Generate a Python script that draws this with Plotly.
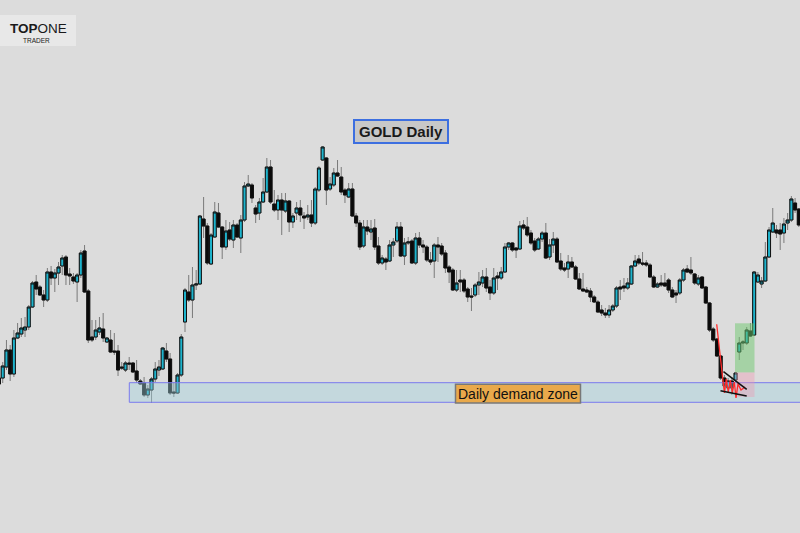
import plotly.graph_objects as go

# ---- daily OHLC values (price units) ----
opens = [1622,1622,1633,1650,1626,1662,1666,1670,1673,1693,
         1718,1713,1705,1700,1728,1722,1727,1734,1743,1726,
         1723,1718,1725,1749,1709,1663,1663,1668,1671,1658,
         1660,1649,1649,1633,1630,1637,1637,1629,1619,1617,
         1605,1610,1621,1630,1631,1649,1641,1608,1607,1625,
         1678,1708,1700,1715,1716,1781,1774,1736,1763,1787,
         1773,1753,1770,1760,1775,1762,1780,1814,1815,1792,
         1787,1798,1808,1833,1796,1790,1800,1789,1799,1778,
         1787,1792,1784,1783,1785,1777,1810,1840,1842,1811,
         1815,1827,1823,1810,1803,1811,1784,1777,1754,1773,
         1768,1772,1754,1737,1741,1739,1755,1759,1773,1744,
         1757,1759,1737,1762,1755,1753,1740,1739,1755,1754,
         1747,1733,1730,1710,1720,1720,1711,1704,1705,1715,
         1717,1723,1713,1707,1724,1722,1728,1753,1757,1752,
         1751,1775,1773,1767,1759,1751,1761,1767,1743,1755,
         1761,1739,1732,1731,1738,1733,1721,1711,1710,1709,
         1703,1698,1690,1687,1685,1690,1694,1713,1714,1712,
         1716,1734,1741,1737,1737,1735,1723,1713,1717,1717,
         1720,1710,1707,1707,1720,1731,1730,1726,1716,1723,
         1713,1697,1671,1661,1644,1622,1612,1619,1620,1648,
         1657,1657,1669,1665,1718,1716,1719,1743,1768,1770,
         1770,1767,1777,1780,1797,1791]
highs = [1628,1638,1660,1655,1670,1677,1682,1683,1695,1719,
         1725,1715,1710,1732,1734,1731,1738,1745,1745,1732,
         1727,1727,1750,1755,1711,1680,1680,1683,1687,1663,
         1670,1667,1655,1638,1639,1643,1638,1640,1621,1623,
         1615,1623,1638,1640,1653,1657,1647,1618,1627,1666,
         1712,1725,1733,1730,1785,1803,1777,1767,1798,1797,
         1774,1780,1778,1780,1777,1785,1818,1825,1817,1795,
         1802,1822,1842,1840,1810,1805,1807,1807,1800,1787,
         1798,1800,1788,1795,1800,1813,1834,1854,1843,1823,
         1832,1840,1833,1812,1817,1817,1787,1780,1780,1780,
         1780,1781,1763,1745,1743,1760,1762,1778,1778,1762,
         1763,1761,1767,1768,1760,1755,1748,1757,1763,1757,
         1750,1735,1732,1730,1730,1722,1713,1712,1717,1728,
         1730,1732,1720,1732,1728,1733,1757,1758,1758,1753,
         1779,1780,1783,1770,1762,1763,1769,1777,1761,1768,
         1763,1747,1737,1745,1743,1735,1727,1727,1713,1712,
         1705,1700,1695,1692,1695,1696,1714,1720,1722,1722,
         1735,1745,1745,1748,1740,1737,1725,1718,1725,1727,
         1722,1713,1710,1722,1732,1735,1743,1727,1725,1724,
         1714,1698,1673,1662,1645,1625,1622,1623,1628,1663,
         1660,1673,1677,1729,1728,1723,1758,1773,1792,1775,
         1777,1782,1787,1804,1802,1792]
lows = [1607,1617,1630,1619,1623,1661,1663,1663,1670,1692,
        1705,1704,1693,1698,1715,1708,1715,1725,1715,1715,
        1716,1698,1722,1707,1657,1658,1660,1665,1658,1657,
        1647,1645,1624,1630,1628,1630,1627,1617,1615,1603,
        1602,1597,1618,1624,1630,1638,1605,1603,1606,1623,
        1668,1698,1682,1710,1715,1762,1735,1735,1762,1772,
        1741,1750,1759,1752,1762,1747,1778,1813,1797,1777,
        1780,1797,1807,1796,1788,1780,1765,1787,1768,1772,
        1780,1778,1771,1780,1773,1775,1808,1839,1795,1809,
        1813,1823,1805,1797,1802,1783,1773,1750,1752,1765,
        1760,1750,1735,1735,1730,1738,1743,1757,1743,1735,
        1755,1736,1735,1752,1747,1738,1735,1722,1738,1744,
        1727,1717,1709,1708,1708,1707,1698,1689,1703,1705,
        1713,1708,1700,1705,1710,1720,1727,1750,1748,1742,
        1750,1770,1763,1755,1748,1750,1758,1741,1740,1747,
        1737,1729,1728,1722,1732,1720,1710,1708,1707,1698,
        1697,1687,1684,1682,1682,1688,1692,1700,1708,1710,
        1715,1733,1735,1734,1733,1722,1712,1712,1713,1713,
        1707,1702,1697,1705,1718,1727,1725,1715,1714,1711,
        1696,1668,1658,1643,1620,1608,1608,1605,1617,1640,
        1650,1655,1663,1664,1717,1712,1718,1742,1767,1762,
        1750,1757,1770,1778,1787,1773]
closes = [1616,1634,1650,1626,1662,1667,1672,1673,1693,1717,
          1711,1705,1700,1728,1722,1727,1733,1742,1725,1724,
          1719,1725,1747,1708,1660,1660,1670,1672,1662,1662,
          1648,1648,1630,1632,1637,1636,1628,1620,1616,1605,
          1611,1621,1631,1633,1652,1641,1607,1607,1625,1663,
          1710,1700,1715,1716,1784,1774,1737,1765,1788,1773,
          1753,1769,1761,1775,1763,1780,1814,1816,1802,1786,
          1798,1808,1833,1798,1790,1800,1790,1799,1778,1784,
          1792,1785,1782,1785,1777,1811,1832,1853,1810,1816,
          1827,1824,1808,1805,1811,1784,1777,1753,1773,1769,
          1771,1753,1737,1742,1738,1755,1758,1773,1744,1757,
          1758,1737,1762,1755,1753,1740,1738,1755,1753,1746,
          1732,1728,1710,1717,1718,1709,1703,1703,1715,1718,
          1723,1712,1707,1722,1722,1728,1753,1757,1750,1750,
          1774,1772,1765,1757,1750,1761,1767,1742,1755,1761,
          1738,1731,1730,1738,1733,1721,1711,1709,1708,1703,
          1698,1688,1687,1685,1690,1694,1712,1711,1712,1717,
          1734,1739,1737,1736,1735,1723,1713,1716,1715,1714,
          1710,1703,1705,1720,1730,1728,1727,1717,1722,1712,
          1697,1670,1660,1644,1622,1614,1619,1612,1627,1657,
          1658,1670,1664,1728,1725,1719,1743,1770,1777,1767,
          1766,1776,1780,1801,1790,1775]
days = list(range(len(opens)))

zone_top = 1617.3
zone_bottom = 1597.7
title_text = "GOLD Daily"
zone_text = "Daily demand zone"

# ---- pixel helpers for drawn decorations ----
def px(xp):
    return (xp + 1) / 3.72

def py(yp):
    return 2000 - yp

CYAN = "#1eb4cd"
BLACK = "#0a0a0a"

fig = go.Figure()
fig.add_trace(go.Candlestick(
    x=days, open=opens, high=highs, low=lows, close=closes,
    increasing=dict(fillcolor=CYAN, line=dict(color="#7a7a7a", width=1)),
    decreasing=dict(fillcolor=BLACK, line=dict(color="#7a7a7a", width=1)),
    whiskerwidth=0, hoverinfo="skip", showlegend=False))
body_hi = [max(o, c) for o, c in zip(opens, closes)]
body_lo = [min(o, c) for o, c in zip(opens, closes)]
fig.add_trace(go.Candlestick(
    x=days, open=opens, high=body_hi, low=body_lo, close=closes,
    increasing=dict(fillcolor=CYAN, line=dict(color="#111111", width=1)),
    decreasing=dict(fillcolor=BLACK, line=dict(color="#111111", width=1)),
    whiskerwidth=0, hoverinfo="skip", showlegend=False))

shapes = []
# demand zone
shapes.append(dict(type="rect", xref="x", yref="y", x0=px(129.3), x1=px(801),
                   y0=zone_bottom, y1=zone_top,
                   fillcolor="rgba(162,210,222,0.42)",
                   line=dict(color="#7b7bee", width=1)))
# green target box and pink risk box
shapes.append(dict(type="rect", xref="x", yref="y", x0=px(735), x1=px(754.5),
                   y0=py(372.5), y1=py(323.3),
                   fillcolor="rgba(110,200,110,0.5)", line=dict(width=0)))
shapes.append(dict(type="rect", xref="x", yref="y", x0=px(735), x1=px(754.5),
                   y0=py(397), y1=py(372.5),
                   fillcolor="rgba(240,150,175,0.38)", line=dict(width=0)))
# red zigzag drawing
red_pts = [(716.7, 324.3), (723.0, 381), (724.5, 393), (726.3, 379), (728.3, 392),
           (730.3, 380), (732.3, 393), (734.3, 382), (736.0, 398), (738.0, 384),
           (741.0, 390), (745.0, 387)]
path = "M " + " L ".join(f"{px(a):.3f},{py(b):.2f}" for a, b in red_pts)
shapes.append(dict(type="path", xref="x", yref="y", path=path,
                   line=dict(color="#ff2b2b", width=1.3)))
# black wedge lines
shapes.append(dict(type="line", xref="x", yref="y", x0=px(723.5), y0=py(371.7),
                   x1=px(746.7), y1=py(389.3), line=dict(color="#111", width=1.5)))
shapes.append(dict(type="line", xref="x", yref="y", x0=px(720.5), y0=py(390.7),
                   x1=px(746.7), y1=py(396), line=dict(color="#111", width=1.5)))
# logo box
shapes.append(dict(type="rect", xref="paper", yref="paper", x0=0, x1=76 / 800,
                   y0=1 - 46 / 533, y1=1 - 15 / 533,
                   fillcolor="#e8e8e8", line=dict(width=0)))
# title box
shapes.append(dict(type="rect", xref="paper", yref="paper", x0=354 / 800, x1=448 / 800,
                   y0=1 - 143 / 533, y1=1 - 120 / 533,
                   fillcolor="#c8c8c8", line=dict(color="#3d6fe0", width=2)))
# demand zone label box
shapes.append(dict(type="rect", xref="paper", yref="paper", x0=455.5 / 800, x1=580.5 / 800,
                   y0=1 - 403 / 533, y1=1 - 384.3 / 533,
                   fillcolor="#e9a94b", line=dict(color="#787878", width=1.5)))

annotations = [
    dict(text="<b>TOP</b>ONE", xref="paper", yref="paper", x=38 / 800, y=1 - 29 / 533,
         showarrow=False, xanchor="center", yanchor="middle",
         font=dict(family="Liberation Sans, Arial", size=13.5, color="#1a1a1a")),
    dict(text="TRADER", xref="paper", yref="paper", x=36.5 / 800, y=1 - 41 / 533,
         showarrow=False, xanchor="center", yanchor="middle",
         font=dict(family="Liberation Sans, Arial", size=6.5, color="#1a1a1a")),
    dict(text=f"<b>{title_text}</b>", xref="paper", yref="paper", x=401 / 800, y=1 - 131.5 / 533,
         showarrow=False, xanchor="center", yanchor="middle",
         font=dict(family="Liberation Sans, Arial", size=15, color="#1a1a1a")),
    dict(text=zone_text, xref="paper", yref="paper", x=518 / 800, y=1 - 393.7 / 533,
         showarrow=False, xanchor="center", yanchor="middle",
         font=dict(family="Liberation Sans, Arial", size=14, color="#111111")),
]

fig.update_layout(
    width=800, height=533,
    margin=dict(l=0, r=0, t=0, b=0),
    paper_bgcolor="#dcdcdc", plot_bgcolor="#dcdcdc",
    showlegend=False,
    boxgap=0.15, boxgroupgap=0.05,
    xaxis=dict(visible=False, range=[px(0), px(800)], rangeslider=dict(visible=False),
               showgrid=False, zeroline=False, fixedrange=True),
    yaxis=dict(visible=False, range=[py(533), py(0)], showgrid=False, zeroline=False,
               fixedrange=True),
    shapes=shapes,
    annotations=annotations,
)

fig.write_html("out.html")
